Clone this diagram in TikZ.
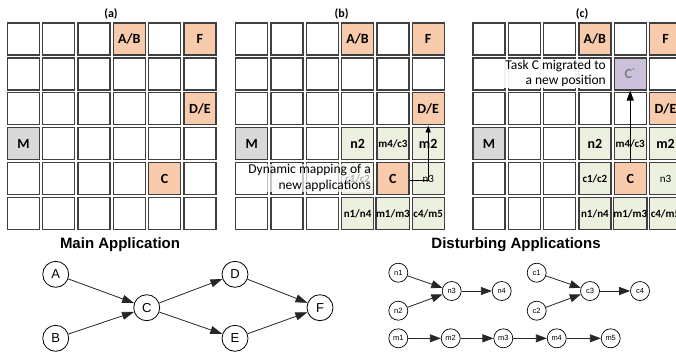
\documentclass[tikz,border=0pt]{standalone}
\usepackage{fontspec}
\setmainfont{Carlito}
\newfontfamily\arialfont{Liberation Sans}
\usetikzlibrary{arrows.meta}
\definecolor{peach}{HTML}{F8CBAD}
\definecolor{sage}{HTML}{EBF1DE}
\definecolor{lightgrey}{HTML}{D9D9D9}
\definecolor{lilac}{HTML}{CCC1DA}
\definecolor{gridline}{HTML}{404040}
\definecolor{fadedtext}{HTML}{7F7F7F}

\begin{document}
\begin{tikzpicture}[x=1pt,y=-1pt,
  cell/.style={draw=gridline, line width=1.2pt, fill=white,
    minimum width=32pt, minimum height=32pt, inner sep=0pt},
  bigtxt/.style={font=\fontsize{14}{14}\selectfont\bfseries},
  smalltxt/.style={font=\fontsize{11}{11}\selectfont\bfseries},
  tasknode/.style={cell, fill=peach, bigtxt},
  mgrnode/.style={cell, fill=lightgrey, bigtxt},
  distnode/.style={cell, fill=sage, smalltxt},
  distbig/.style={cell, fill=sage, bigtxt},
  movednode/.style={cell, fill=lilac, bigtxt, text=fadedtext},
  panellabel/.style={font=\fontsize{12}{12}\selectfont\bfseries},
  notebox/.style={fill=white, fill opacity=0.7, text opacity=1, align=right,
    inner sep=1pt, font=\fontsize{13.5}{15.5}\selectfont},
  gnode/.style={circle, draw=black, line width=0.8pt, fill=white,
    minimum size=26pt, inner sep=0pt, font=\arialfont\fontsize{13}{13}\selectfont},
  dnode/.style={circle, draw=black, line width=0.7pt, fill=white,
    minimum size=19pt, inner sep=0pt, font=\arialfont\fontsize{7.5}{7.5}\selectfont},
  garrow/.style={draw=black!85, line width=0.8pt, -{Triangle[length=12pt,width=8pt]}},
  darrow/.style={draw=black!85, line width=0.8pt, -{Triangle[length=11pt,width=8pt]}},
  marrow/.style={draw=black, line width=0.8pt, -{Triangle[length=7pt,width=5pt]}},
  carrow/.style={draw=black, line width=0.9pt, -{Triangle[length=10pt,width=7pt]}},
  apptitle/.style={font=\arialfont\fontsize{15}{15}\selectfont\bfseries},
]
\clip (0,0) rectangle (676,354);
\fill[white] (0,0) rectangle (676,354);

% three 6x6 processor grids
\foreach \g/\xo in {a/6.7, b/235, c/472.3} {
  \foreach \r in {0,...,5} {
    \foreach \c in {0,...,5} {
      \node[cell] (\g-\r-\c) at ({\xo+35.3*\c+16.7},{22.3+34.9*\r+16.7}) {};
    }
  }
}

% panel labels
\node[panellabel] (la) at (111,14) {(a)};
\node[panellabel] (lb) at (341.7,14) {(b)};
\node[panellabel] (lc) at (582,14) {(c)};

% (a) initial mapping of the main application
\node[tasknode] (aAB) at (a-0-3) {A/B};
\node[tasknode] (aF)  at (a-0-5) {F};
\node[tasknode] (aDE) at (a-2-5) {D/E};
\node[mgrnode]  (aM)  at (a-3-0) {M};
\node[tasknode] (aC)  at (a-4-4) {C};

% (b) disturbing applications mapped next to task C
\node[tasknode] (bAB) at (b-0-3) {A/B};
\node[tasknode] (bF)  at (b-0-5) {F};
\node[tasknode] (bDE) at (b-2-5) {D/E};
\node[mgrnode]  (bM)  at (b-3-0) {M};
\node[distbig]  (bn2) at (b-3-3) {n2};
\node[distnode] (bm4) at (b-3-4) {m4/c3};
\node[distbig]  (bm2) at (b-3-5) {m2};
\node[distnode] (bc1) at (b-4-3) {c1/c2};
\node[tasknode] (bC)  at (b-4-4) {C};
\node[distnode, font=\fontsize{11}{11}\selectfont] (bn3) at (b-4-5) {n3};
\node[distnode] (bn1) at (b-5-3) {n1/n4};
\node[distnode] (bm1) at (b-5-4) {m1/m3};
\node[distnode] (bc4) at (b-5-5) {c4/m5};
\draw[marrow] ([yshift=-2pt]bC.east) -| (bDE.south);
\node[notebox, anchor=east] (bnote) at (372,178) {Dynamic mapping of a\\new applications};

% (c) task C migrated
\node[tasknode] (cAB) at (c-0-3) {A/B};
\node[tasknode] (cF)  at (c-0-5) {F};
\node[movednode] (cCs) at (c-1-4) {C\textsuperscript{\fontsize{7}{7}\selectfont*}};
\node[tasknode] (cDE) at (c-2-5) {D/E};
\node[mgrnode]  (cM)  at (c-3-0) {M};
\node[distbig]  (cn2) at (c-3-3) {n2};
\node[distnode] (cm4) at (c-3-4) {m4/c3};
\node[distbig]  (cm2) at (c-3-5) {m2};
\node[distnode] (cc1) at (c-4-3) {c1/c2};
\node[tasknode] (cC)  at (c-4-4) {C};
\node[distnode, font=\fontsize{11}{11}\selectfont] (cn3) at (c-4-5) {n3};
\node[distnode] (cn1) at (c-5-3) {n1/n4};
\node[distnode] (cm1) at (c-5-4) {m1/m3};
\node[distnode] (cc4) at (c-5-5) {c4/m5};
\draw[carrow] (cC.north) -- (cCs.south);
\node[notebox, anchor=east, fill opacity=0.92] (cnote) at (607,73.5) {Task C migrated to\\a new position};

% main application graph
\node[apptitle] (tmain) at (120,245) {Main Application};
\node[gnode] (A) at (55.7,274.3) {A};
\node[gnode] (B) at (55.7,338.3) {B};
\node[gnode] (C) at (146.7,307.7) {C};
\node[gnode] (D) at (235,274.3) {D};
\node[gnode] (E) at (235,338.3) {E};
\node[gnode] (F) at (320,307.7) {F};
\draw[garrow] (A) -- (C);
\draw[garrow] (B) -- (C);
\draw[garrow] (C) -- (D);
\draw[garrow] (C) -- (E);
\draw[garrow] (D) -- (F);
\draw[garrow] (E) -- (F);

% disturbing applications
\node[apptitle] (tdist) at (516,245) {Disturbing Applications};
\node[dnode] (n1) at (398.3,272.7) {n1};
\node[dnode] (n2) at (398.3,310.7) {n2};
\node[dnode] (n3) at (451.7,291) {n3};
\node[dnode] (n4) at (501.7,291) {n4};
\node[dnode] (c1) at (536.7,272.7) {c1};
\node[dnode] (c2) at (536.7,310.7) {c2};
\node[dnode] (c3) at (590,291) {c3};
\node[dnode] (c4) at (640,291) {c4};
\node[dnode] (m1) at (398.3,338.3) {m1};
\node[dnode] (m2) at (450.7,338.3) {m2};
\node[dnode] (m3) at (503.3,338.3) {m3};
\node[dnode] (m4) at (556.7,338.3) {m4};
\node[dnode] (m5) at (610.7,338.3) {m5};
\draw[darrow] (n1) -- (n3);
\draw[darrow] (n2) -- (n3);
\draw[darrow] (n3) -- (n4);
\draw[darrow] (c1) -- (c3);
\draw[darrow] (c2) -- (c3);
\draw[darrow] (c3) -- (c4);
\draw[darrow] (m1) -- (m2);
\draw[darrow] (m2) -- (m3);
\draw[darrow] (m3) -- (m4);
\draw[darrow] (m4) -- (m5);
\end{tikzpicture}
\end{document}
